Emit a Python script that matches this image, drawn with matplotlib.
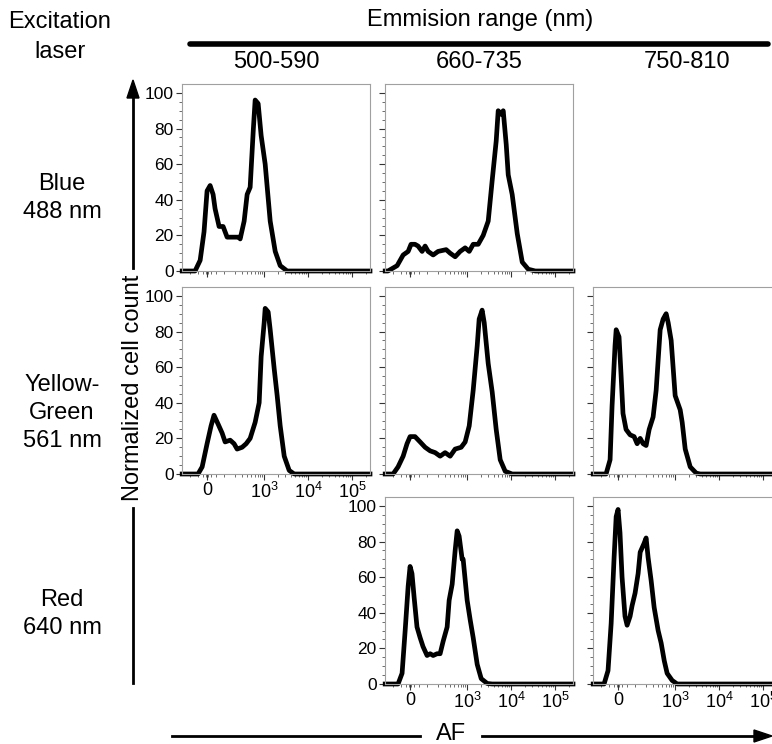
import matplotlib
matplotlib.use("Agg")
import matplotlib.pyplot as plt
from matplotlib.lines import Line2D

plt.rcParams['font.family'] = ['Liberation Sans', 'DejaVu Sans']
plt.rcParams['mathtext.fontset'] = 'custom'
plt.rcParams['mathtext.rm'] = 'Liberation Sans'
plt.rcParams['mathtext.default'] = 'rm'

# ---- data: AF intensity (x) vs normalized cell count (y) ----
blue_500_x = [-170, -67, -37, -16, 0, 16, 32, 43, 67, 94, 125, 193, 258, 273, 340, 400, 470,
              555, 613, 719, 842, 1040, 1353, 1760, 2285, 3290, 250000]
blue_500_y = [0, 0, 6, 22, 45, 48, 43, 35, 25, 25, 19, 19, 19, 18, 28, 43, 47,
              79, 96, 94, 76, 60, 28, 11, 3, 0, 0]

blue_660_x = [-170, -143, -73, -37, -10, 5, 26, 43, 67, 87, 109, 152, 205, 322, 400, 523, 682,
              888, 1098, 1353, 1760, 2285, 2970, 3660, 4510, 5010, 5860, 6510, 7620, 8460,
              10400, 13550, 17600, 24100, 34800, 250000]
blue_660_y = [0, 0, 3, 9, 11, 15, 15, 14, 11, 14, 11, 9, 11, 12, 10, 8, 11,
              13, 11, 15, 15, 20, 28, 51, 73, 90, 88, 90, 71, 54,
              43, 21, 5, 1, 0, 0]

yg_500_x = [-170, -49, -26, 0, 21, 37, 61, 87, 109, 152, 193, 230, 304, 379, 470, 613, 758,
            842, 986, 1040, 1217, 1353, 1670, 1950, 2285, 2820, 3660, 4750, 250000]
yg_500_y = [0, 0, 4, 17, 27, 33, 28, 23, 18, 19, 17, 14, 15, 17, 20, 29, 40,
            66, 85, 93, 91, 81, 59, 44, 27, 10, 2, 0, 0]

yg_660_x = [-170, -101, -67, -37, -16, 0, 26, 55, 87, 125, 172, 230, 304, 400, 523, 719, 888,
            1098, 1353, 1670, 1850, 2160, 2410, 2970, 3660, 4510, 5560, 7230, 10400, 250000]
yg_660_y = [0, 0, 4, 10, 17, 21, 21, 18, 15, 13, 12, 10, 12, 10, 14, 15, 18,
            27, 47, 72, 87, 92, 85, 62, 46, 25, 8, 1.5, 0, 0]

yg_750_x = [-170, -67, -43, -32, -16, -10, 5, 16, 26, 43, 67, 94, 117, 143, 172, 205, 244,
            304, 359, 446, 523, 613, 682, 799, 986, 1284, 1426, 1670, 2170, 2970, 3660, 250000]
yg_750_y = [0, 0, 8, 38, 72, 81, 77, 55, 34, 25, 22, 21, 17, 20, 17, 16, 25,
            32, 47, 81, 87, 90, 85, 75, 44, 36, 29, 14, 4, 0.5, 0, 0]

red_660_x = [-170, -67, -43, -26, -10, 0, 10, 21, 37, 55, 73, 101, 125, 152, 193, 230, 273,
             340, 379, 446, 523, 582, 646, 758, 799, 986, 1156, 1353, 1670, 2060, 2820, 3660, 250000]
red_660_y = [0, 0, 6, 30, 55, 66, 62, 49, 32, 26, 21, 16, 17, 16, 17, 17, 24,
             32, 47, 56, 75, 86, 83, 70, 70, 47, 36, 26, 11, 3, 0.3, 0, 0]

red_750_x = [-170, -80, -55, -37, -21, -10, 0, 10, 21, 37, 49, 67, 80, 101, 125, 143, 182,
             205, 230, 273, 322, 400, 470, 555, 646, 842, 1098, 250000]
red_750_y = [0, 0, 7.5, 34, 71, 94, 98, 85, 60, 38, 33, 38, 44, 51, 62, 74, 79,
             82, 71, 58, 43, 30, 23, 13, 6, 2, 0, 0]

col_titles = ['500-590', '660-735', '750-810']
row_titles = ['Blue\n488 nm', 'Yellow-\nGreen\n561 nm', 'Red\n640 nm']

x_major = [0, 1e3, 1e4, 1e5]
x_major_labels = ['0', '$10^3$', '$10^4$', '$10^5$']
x_minor = [-100, -50, -20, -5, 5, 20, 50, 100,
           200, 300, 400, 500, 600, 700, 800, 900,
           2000, 3000, 4000, 5000, 6000, 7000, 8000, 9000,
           20000, 30000, 40000, 50000, 60000, 70000, 80000, 90000, 200000]

# (row, col, x, y, show y labels, show x labels)
panels = [
    (0, 0, blue_500_x, blue_500_y, True, False),
    (0, 1, blue_660_x, blue_660_y, False, False),
    (1, 0, yg_500_x, yg_500_y, True, True),
    (1, 1, yg_660_x, yg_660_y, False, False),
    (1, 2, yg_750_x, yg_750_y, False, False),
    (2, 1, red_660_x, red_660_y, True, True),
    (2, 2, red_750_x, red_750_y, False, True),
]

W, H = 772, 744
fig = plt.figure(figsize=(W / 100, H / 100), dpi=100)

col_left = [182, 385, 593]
row_top = [84, 287, 497]
pw, ph = 188, 187


def fx(px):
    return px / W


def fy(py):
    return 1 - py / H


for r, c, x, y, ylab, xlab in panels:
    ax = fig.add_axes([fx(col_left[c]), fy(row_top[r] + ph), pw / W, ph / H])
    ax.set_xscale('asinh', linear_width=100)
    ax.plot(x, y, color='black', lw=3.4, solid_joinstyle='round', clip_on=False)
    ax.set_xlim(-172, 2.5e5)
    ax.set_ylim(0, 105)
    ax.set_xticks(x_major)
    ax.set_xticks(x_minor, minor=True)
    ax.set_xticklabels(x_major_labels if xlab else [])
    ax.set_yticks(range(0, 101, 20))
    ax.set_yticks(range(0, 101, 5), minor=True)
    if not ylab:
        ax.set_yticklabels([])
    ax.tick_params(which='major', direction='out', length=4, width=0.8,
                   color='#333333', pad=2)
    ax.tick_params(axis='y', which='major', labelsize=12.5)
    ax.tick_params(axis='x', which='major', labelsize=13)
    ax.tick_params(which='minor', direction='out', length=2, width=0.6, color='#555555')
    for s in ax.spines.values():
        s.set_color('#a0a0a0')
        s.set_linewidth(0.8)

big = 17

# header
fig.text(fx(60), fy(22), 'Excitation', ha='center', va='center', fontsize=big)
fig.text(fx(60), fy(52), 'laser', ha='center', va='center', fontsize=big)
fig.text(fx(480), fy(20), 'Emmision range (nm)', ha='center', va='center', fontsize=big)
fig.add_artist(Line2D([fx(190), fx(768)], [fy(44), fy(44)], color='black', lw=4,
                      solid_capstyle='round'))
for c, t in enumerate(col_titles):
    fig.text(fx(col_left[c] + pw / 2), fy(62), t, ha='center', va='center', fontsize=big)

# row labels
row_centers = [198, 413, 614]
for yc, t in zip(row_centers, row_titles):
    fig.text(fx(62), fy(yc), t, ha='center', va='center', fontsize=big, linespacing=1.35)

# vertical axis arrow with label
ax_x = 133
fig.text(fx(ax_x), fy(388), 'Normalized cell count', rotation=90, ha='center',
         va='center', fontsize=big)
fig.add_artist(Line2D([fx(ax_x), fx(ax_x)], [fy(683), fy(508)], color='black', lw=2))
fig.add_artist(Line2D([fx(ax_x), fx(ax_x)], [fy(268), fy(95)], color='black', lw=2))
fig.patches.append(plt.Polygon([[fx(ax_x - 6), fy(98)], [fx(ax_x + 6), fy(98)],
                                [fx(ax_x), fy(80)]], closed=True, color='black',
                               transform=fig.transFigure, figure=fig))

# horizontal AF arrow
fig.text(fx(451), fy(734), 'AF', ha='center', va='center', fontsize=big)
fig.add_artist(Line2D([fx(172), fx(420)], [fy(736), fy(736)], color='black', lw=2))
fig.add_artist(Line2D([fx(482), fx(756)], [fy(736), fy(736)], color='black', lw=2))
fig.patches.append(plt.Polygon([[fx(754), fy(730)], [fx(754), fy(742)],
                                [fx(772), fy(736)]], closed=True, color='black',
                               transform=fig.transFigure, figure=fig))

fig.savefig('out.png', dpi=100)
